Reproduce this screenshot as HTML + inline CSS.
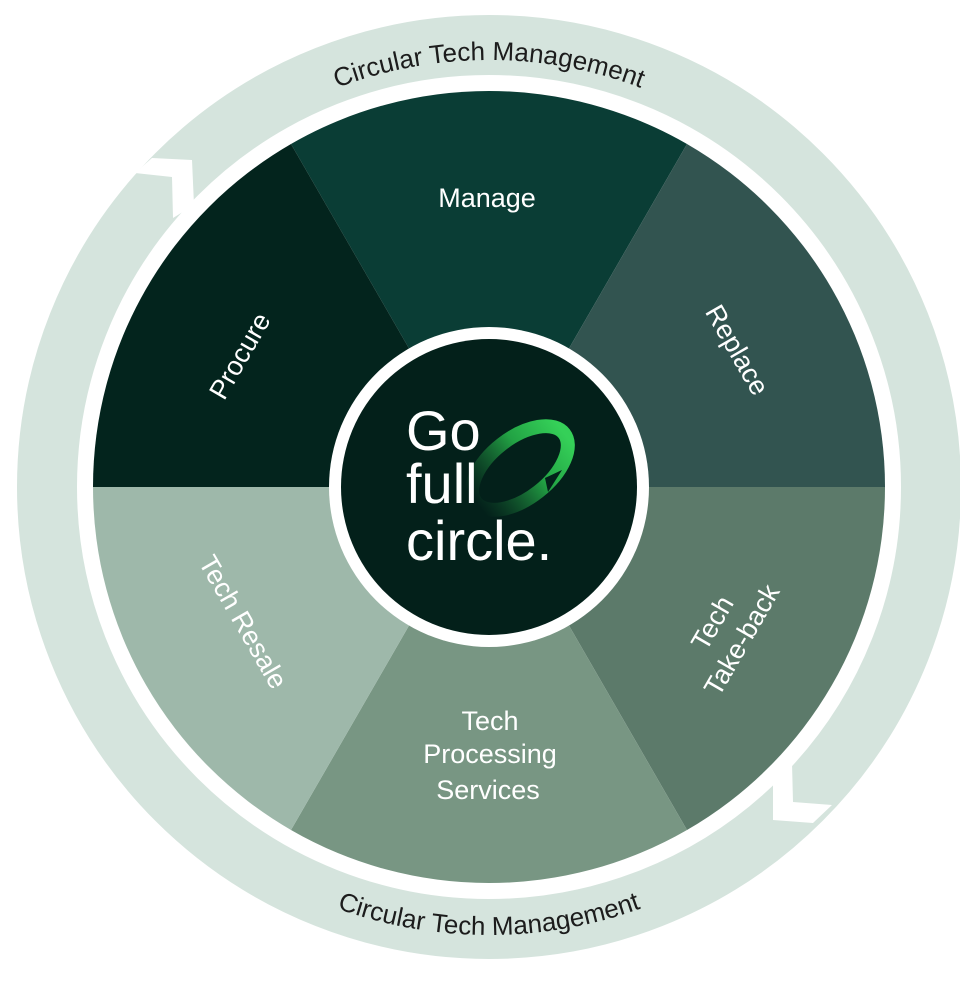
<!DOCTYPE html>
<html><head><meta charset="utf-8"><style>html,body{margin:0;padding:0;background:#fff}svg{display:block}</style></head>
<body>
<svg width="960" height="981" viewBox="0 0 960 981" xmlns="http://www.w3.org/2000/svg" font-family="Liberation Sans, sans-serif">
<defs>
<path id="topArc" d="M 62 487 A 427 427 0 0 1 916 487"/>
<path id="botArc" d="M 41 487 A 448 448 0 0 0 937 487"/>
<linearGradient id="g" x1="0" y1="0" x2="1" y2="0"><stop offset="0" stop-color="#1a6a35" stop-opacity="0"/><stop offset="0.6" stop-color="#22a244"/><stop offset="1" stop-color="#35d058"/></linearGradient>
</defs>
<circle cx="489" cy="487" r="442" fill="none" stroke="#d5e4dd" stroke-width="60"/>
<polygon points="135,173 152,158 192,160 194,205 173,218 172,177" fill="#fff"/>
<polygon points="792,763 793,802 832,805 813,823 773,820 773,783" fill="#fff"/>
<circle cx="489" cy="487" r="411" fill="#fff"/>
<g transform="translate(489,487)">
<path d="M0 0 L-198 -343 A396 396 0 0 1 198 -343 Z" fill="#0a3d35"/>
<path d="M0 0 L198 -343 A396 396 0 0 1 396 0 Z" fill="#325450"/>
<path d="M0 0 L396 0 A396 396 0 0 1 198 343 Z" fill="#5c7a6a"/>
<path d="M0 0 L198 343 A396 396 0 0 1 -198 343 Z" fill="#789683"/>
<path d="M0 0 L-198 343 A396 396 0 0 1 -396 0 Z" fill="#9eb8aa"/>
<path d="M0 0 L-396 0 A396 396 0 0 1 -198 -343 Z" fill="#03241d"/>
</g>
<g fill="#fff" font-size="27" text-anchor="middle">
<text x="487" y="207">Manage</text>
<text transform="translate(240,356) rotate(-60)" y="9">Procure</text>
<text transform="translate(737,350) rotate(60)" y="9">Replace</text>
<text transform="translate(243,622) rotate(60)" y="9">Tech Resale</text>
<text transform="translate(728,632) rotate(-60)"><tspan x="0" y="-9">Tech</tspan><tspan x="0" y="25">Take-back</tspan></text>
<text x="490" y="730">Tech</text>
<text x="490" y="763">Processing</text>
<text x="488" y="799">Services</text>
</g>
<circle cx="489" cy="487" r="160" fill="#fff"/>
<circle cx="489" cy="487" r="148" fill="#03201a"/>
<g transform="translate(520,468) rotate(-38)">
<ellipse cx="0" cy="0" rx="56" ry="30" fill="none" stroke="url(#g)" stroke-width="14"/>
</g>
<polygon points="545,478 562,470 548,492" fill="#03201a"/>
<g fill="#fff" font-size="56">
<text x="406" y="450">Go</text>
<text x="406" y="503">full</text>
<text x="406" y="560">circle.</text>
</g>
<g fill="#1c1c1c" font-size="26">
<text><textPath href="#topArc" startOffset="50%" text-anchor="middle">Circular Tech Management</textPath></text>
<text><textPath href="#botArc" startOffset="50%" text-anchor="middle">Circular Tech Management</textPath></text>
</g>
</svg>
</body></html>
